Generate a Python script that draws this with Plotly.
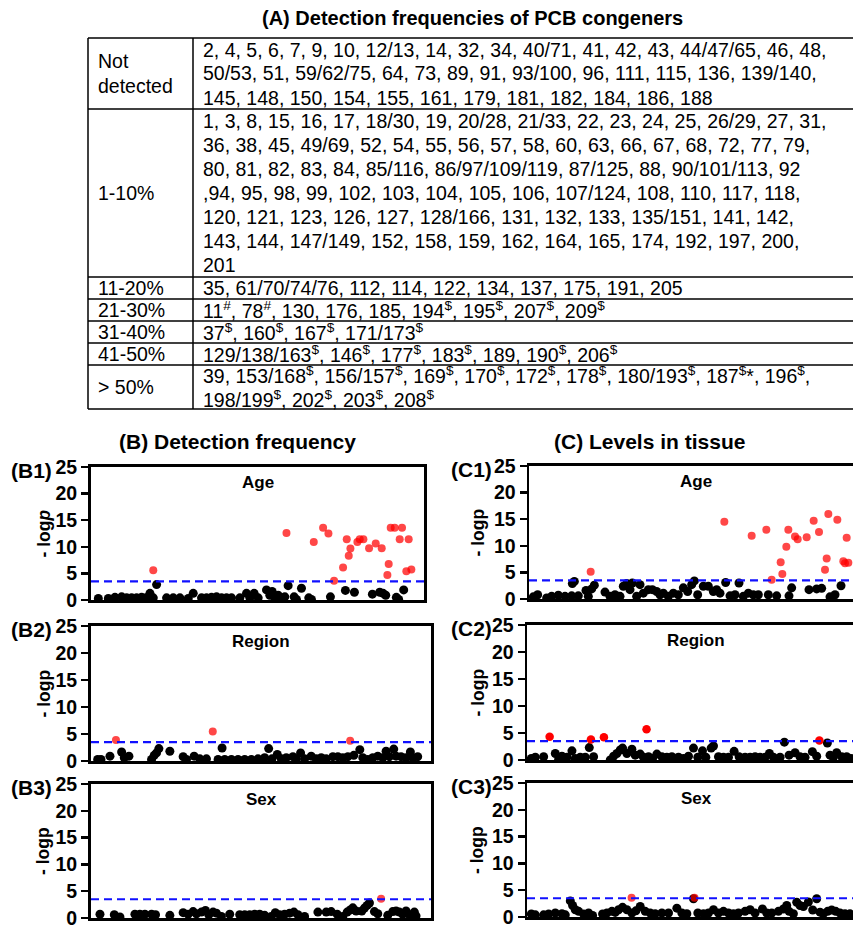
import plotly.graph_objects as go

W, H = 853, 925
FONT = "Liberation Sans, Arial, Helvetica, sans-serif"

# ---------------- (A) table data ----------------
table_title = "(A) Detection frequencies of PCB congeners"
freq_classes = ["Not<br>detected", "1-10%", "11-20%", "21-30%", "31-40%", "41-50%", "> 50%"]
congener_lines = [
    ["2, 4, 5, 6, 7, 9, 10, 12/13, 14, 32, 34, 40/71, 41, 42, 43, 44/47/65, 46, 48,",
     "50/53, 51, 59/62/75, 64, 73, 89, 91, 93/100, 96, 111, 115, 136, 139/140,",
     "145, 148, 150, 154, 155, 161, 179, 181, 182, 184, 186, 188"],
    ["1, 3, 8, 15, 16, 17, 18/30, 19, 20/28, 21/33, 22, 23, 24, 25, 26/29, 27, 31,",
     "36, 38, 45, 49/69, 52, 54, 55, 56, 57, 58, 60, 63, 66, 67, 68, 72, 77, 79,",
     "80, 81, 82, 83, 84, 85/116, 86/97/109/119, 87/125, 88, 90/101/113, 92",
     ",94, 95, 98, 99, 102, 103, 104, 105, 106, 107/124, 108, 110, 117, 118,",
     "120, 121, 123, 126, 127, 128/166, 131, 132, 133, 135/151, 141, 142,",
     "143, 144, 147/149, 152, 158, 159, 162, 164, 165, 174, 192, 197, 200,",
     "201"],
    ["35, 61/70/74/76, 112, 114, 122, 134, 137, 175, 191, 205"],
    ["11<sup>#</sup>, 78<sup>#</sup>, 130, 176, 185, 194<sup>$</sup>, 195<sup>$</sup>, 207<sup>$</sup>, 209<sup>$</sup>"],
    ["37<sup>$</sup>, 160<sup>$</sup>, 167<sup>$</sup>, 171/173<sup>$</sup>"],
    ["129/138/163<sup>$</sup>, 146<sup>$</sup>, 177<sup>$</sup>, 183<sup>$</sup>, 189, 190<sup>$</sup>, 206<sup>$</sup>"],
    ["39, 153/168<sup>$</sup>, 156/157<sup>$</sup>, 169<sup>$</sup>, 170<sup>$</sup>, 172<sup>$</sup>, 178<sup>$</sup>, 180/193<sup>$</sup>, 187<sup>$</sup>*, 196<sup>$</sup>,",
     "198/199<sup>$</sup>, 202<sup>$</sup>, 203<sup>$</sup>, 208<sup>$</sup>"],
]

# ---------------- scatter data (x = congener position, y = -log p) ----------------
threshold = 3.5

b1_black_x = [2.2,5.2,7.2,9.2,10.7,12.2,13.7,15.2,16.5,17.7,18.7,19.7,22.7,24.7,26.7,29.2,30.7,33.2,34.7,36.2,
              37.7,39.2,40.7,42.2,44.7,46.7,47.7,49.0,50.2,52.7,53.7,54.4,55.2,56.2,57.2,58.2,59.2,61.0,61.7,63.2,
              65.4,66.2,71.9,76.4,79.1,84.5,86.7,87.7,88.5,91.7,92.4,93.9]
b1_black_y = [0.3,0.3,0.5,0.6,0.4,0.4,0.4,0.5,0.4,1.25,0.4,2.9,0.4,0.4,0.4,0.3,1.25,0.4,0.4,0.5,
              0.6,0.4,0.4,0.4,0.4,1.25,0.4,1.25,0.4,1.9,0.9,1.6,0.4,0.9,0.4,0.6,2.7,0.6,0.1,2.2,
              0.4,0.1,0.6,1.8,1.45,1.1,1.45,1.25,0.9,0.5,0.1,1.9]
b1_red_x = [18.7,58.7,66.9,69.7,71.3,73.0,75.7,76.8,77.4,77.9,80.0,80.7,81.8,83.5,85.5,87.3,89.0,89.4,90.0,91.2,
            92.7,93.4,94.7,95.4,96.2]
b1_red_y = [5.6,12.6,10.9,13.6,12.5,3.6,6.1,11.4,8.3,9.7,10.9,11.4,11.4,9.75,10.6,9.75,4.7,6.75,13.6,13.6,
            11.4,13.6,5.4,11.4,5.75]

b2_black_x = [2.0,3.0,5.7,9.2,10.0,11.4,18.2,19.0,19.7,20.4,23.7,27.7,28.7,31.0,32.7,34.7,38.2,39.4,40.2,42.2,
              44.2,46.2,48.2,50.2,52.2,53.4,54.4,56.0,57.2,58.7,60.7,61.7,63.0,64.2,66.2,67.7,69.2,70.7,72.7,74.2,
              75.7,77.2,79.0,80.8,81.7,83.2,84.7,86.2,87.7,88.7,89.7,91.0,91.7,93.2,94.7,96.0,96.7,98.2]
b2_black_y = [0.3,0.3,0.9,1.66,0.6,0.9,0.3,1.05,1.5,2.3,1.8,0.8,0.3,0.9,0.4,0.4,0.3,2.4,0.3,0.3,
              0.3,0.3,0.3,0.4,0.6,2.3,0.4,1.2,0.4,0.6,0.8,0.4,1.5,0.4,0.9,0.4,0.6,0.4,0.8,0.8,
              0.6,0.8,1.05,2.1,0.6,0.3,0.6,0.9,0.6,1.8,0.8,2.2,0.9,0.8,0.6,1.66,0.6,0.8]
b2_red_x = [7.5,36.6,77.9]
b2_red_y = [3.87,5.47,3.75]

b3_black_x = [2.7,7.0,8.7,13.2,14.7,16.2,18.2,19.4,23.7,27.7,29.2,30.7,31.7,33.2,34.4,35.4,36.7,37.7,39.2,41.7,
              44.7,46.2,47.7,49.2,50.7,52.2,54.2,55.4,56.7,58.2,59.7,61.0,62.2,64.2,68.2,70.7,72.2,74.0,75.7,77.0,
              77.9,78.7,79.7,81.4,82.2,83.0,83.7,85.2,86.2,89.2,90.7,91.7,92.7,93.7,94.7,95.7,97.2,97.7]
b3_black_y = [0.7,0.6,0.2,0.7,0.7,0.7,0.7,0.6,0.5,1.0,0.7,1.2,0.8,1.1,1.4,0.6,1.1,0.9,0.3,0.7,
              0.6,0.6,0.6,0.7,0.7,0.5,0.3,1.0,0.6,0.7,0.9,1.1,0.6,0.3,1.1,1.1,1.2,0.7,0.3,1.1,
              1.5,1.9,1.3,1.3,1.85,2.35,2.8,1.2,0.8,0.5,1.2,1.3,1.1,0.7,1.3,0.6,1.1,0.4]
b3_red_x = [87.2]
b3_red_y = [3.6]

c1_black_x = [1.3,2.6,5.3,6.8,8.8,10.8,12.8,13.0,13.6,14.8,17.1,17.8,18.8,19.6,22.8,24.3,25.8,27.3,28.3,29.3,
              30.3,31.0,32.3,33.3,34.3,35.8,37.0,38.3,39.3,40.3,41.8,43.3,44.8,46.3,47.6,48.8,49.6,50.6,52.3,53.8,
              55.3,56.3,57.3,59.0,60.3,61.8,63.0,64.3,65.8,67.3,68.8,71.8,74.3,78.0,78.8,84.0,86.3,87.8,90.3,91.8,
              93.6]
c1_black_y = [0.4,0.8,0.2,0.5,0.7,0.5,0.6,2.9,3.3,0.6,1.6,0.5,1.9,2.6,1.3,0.5,0.8,0.5,2.4,2.9,
              1.75,3.0,0.5,2.7,1.1,1.75,1.75,1.4,0.8,1.1,0.5,1.1,0.8,2.1,1.4,2.7,3.4,0.8,2.4,2.4,
              1.4,1.75,1.1,3.1,0.6,0.8,3.0,0.5,1.1,0.8,0.8,0.8,0.6,0.6,2.1,1.75,1.9,2.0,0.4,0.8,
              2.5]
c1_red_x = [18.5,58.6,66.8,71.2,72.8,75.5,76.0,77.2,77.8,79.8,80.6,83.3,85.4,87.0,88.8,89.3,89.8,92.5,94.3,94.8,
            95.3,95.8]
c1_red_y = [5.1,14.5,11.9,13.0,3.6,6.9,4.7,9.8,13.0,11.75,11.25,11.6,14.7,12.6,5.5,7.6,16.0,14.9,7.1,6.7,
            11.5,6.8]

c2_black_x = [1.3,2.5,5.0,8.5,9.5,10.5,12.0,13.5,14.5,16.0,17.5,18.7,20.0,25.0,26.0,27.0,28.0,28.7,30.0,31.5,
              32.5,34.0,35.0,36.5,37.7,39.0,40.5,42.0,43.5,45.5,47.0,48.5,50.0,51.3,52.7,53.7,55.3,56.0,57.5,59.0,
              60.5,62.2,63.7,65.5,67.0,68.5,70.0,71.5,72.8,74.0,76.0,77.3,78.7,80.5,82.0,83.5,85.7,87.0,90.2,91.0,
              92.0,93.0,94.5,96.0,97.3]
c2_black_y = [0.3,0.5,0.6,1.2,0.1,0.7,0.5,1.7,0.3,0.5,0.5,2.3,0.6,0.0,0.7,1.2,1.85,2.2,1.2,2.0,
              0.9,1.1,0.5,0.6,0.3,1.1,0.6,0.5,0.6,0.5,0.3,0.7,2.2,0.5,1.7,0.5,2.2,2.6,0.6,0.5,
              0.5,1.6,0.6,0.5,0.5,0.6,0.5,0.5,1.2,0.5,0.5,3.3,0.9,1.35,0.6,0.5,1.55,0.7,3.15,0.9,
              0.5,1.35,0.6,0.6,0.3]
c2_red_x = [6.8,19.2,23.1,35.9,87.8]
c2_red_y = [4.3,3.8,4.2,5.7,3.6]

c3_black_x = [1.3,2.5,5.0,6.5,8.5,10.5,11.5,13.0,13.7,14.5,15.5,17.0,18.5,19.7,22.7,24.0,25.5,26.5,27.5,28.7,
              30.0,31.5,32.7,34.0,35.5,37.0,38.5,40.5,42.5,45.0,46.5,48.0,50.0,51.3,53.0,54.5,56.0,57.5,59.0,60.5,
              62.0,63.5,65.5,67.0,68.5,70.7,72.0,73.5,75.5,77.0,78.0,78.7,80.0,81.0,82.0,83.0,84.5,85.8,87.0,88.0,
              89.0,90.3,91.5,92.7,94.0,95.5,97.0]
c3_black_y = [0.55,0.4,0.4,0.55,0.75,0.6,0.4,3.0,2.15,1.35,1.05,0.55,0.75,0.3,0.55,0.75,1.05,0.85,1.35,1.8,
              1.35,0.75,1.15,1.95,1.05,0.75,0.6,0.75,0.75,1.65,0.75,0.6,3.4,0.75,0.6,0.75,1.35,0.75,1.05,0.75,
              0.6,0.75,1.05,1.35,0.75,1.5,0.75,0.75,1.05,1.5,2.15,1.05,0.6,2.75,2.15,1.95,2.8,1.3,3.4,0.9,
              0.6,1.05,1.3,1.05,0.75,0.6,0.6]
c3_red_x = [31.4,50.3]
c3_red_y = [3.6,3.6]

y_ticks = [0, 5, 10, 15, 20, 25]

# ---------------- figure ----------------
def PX(p):
    return p / W

def PY(p):
    return 1 - p / H

RED_T = "rgba(255,0,0,0.72)"
panels = [
    dict(lab="(B1)", title="Age", yt="<b>- log<i>p</i></b>", dx=(91, 424), dy=(467, 600), xr=100.0,
         bx=b1_black_x, by=b1_black_y, rx=b1_red_x, ry=b1_red_y, red=RED_T, box=True, labx=32, ytx=43),
    dict(lab="(B2)", title="Region", yt="<b>- logp</b>", dx=(91, 431), dy=(626, 761), xr=102.2,
         bx=b2_black_x, by=b2_black_y, rx=b2_red_x, ry=b2_red_y, red=RED_T, box=True, labx=32, ytx=43),
    dict(lab="(B3)", title="Sex", yt="<b>- logp</b>", dx=(91, 431), dy=(784, 918), xr=102.2,
         bx=b3_black_x, by=b3_black_y, rx=b3_red_x, ry=b3_red_y, red=RED_T, box=True, labx=32, ytx=43),
    dict(lab="(C1)", title="Age", yt="<b>- logp</b>", dx=(529, 853), dy=(466, 599), xr=97.2,
         bx=c1_black_x, by=c1_black_y, rx=c1_red_x, ry=c1_red_y, red=RED_T, box=False, labx=471, ytx=477),
    dict(lab="(C2)", title="Region", yt="<b>- logp</b>", dx=(527, 853), dy=(625, 760), xr=97.9,
         bx=c2_black_x, by=c2_black_y, rx=c2_red_x, ry=c2_red_y, red="#ff0000", box=False, labx=471, ytx=477),
    dict(lab="(C3)", title="Sex", yt="<b>- logp</b>", dx=(527, 853), dy=(783, 917), xr=97.9,
         bx=c3_black_x, by=c3_black_y, rx=c3_red_x, ry=c3_red_y, red=RED_T, box=False, labx=471, ytx=477),
]

fig = go.Figure()
layout = dict(width=W, height=H, margin=dict(l=0, r=0, t=0, b=0, autoexpand=False),
              paper_bgcolor="white", plot_bgcolor="white", showlegend=False,
              font=dict(family=FONT, color="black"))
annotations = []
shapes = []

for i, p in enumerate(panels, start=1):
    sfx = "" if i == 1 else str(i)
    xa, ya = "x" + sfx, "y" + sfx
    fig.add_trace(go.Scatter(x=p["bx"], y=p["by"], mode="markers", xaxis=xa, yaxis=ya,
                             marker=dict(color="black", size=9), hoverinfo="skip"))
    fig.add_trace(go.Scatter(x=p["rx"], y=p["ry"], mode="markers", xaxis=xa, yaxis=ya,
                             marker=dict(color=p["red"], size=8.5 if p["red"] == "#ff0000" else 8),
                             hoverinfo="skip"))
    layout["xaxis" + sfx] = dict(domain=[PX(p["dx"][0]), PX(p["dx"][1])], range=[0, p["xr"]], anchor=ya,
                                 showline=True, linecolor="black", linewidth=3, mirror=True,
                                 showticklabels=False, ticks="", showgrid=False, zeroline=False,
                                 fixedrange=True)
    layout["yaxis" + sfx] = dict(domain=[PY(p["dy"][1]), PY(p["dy"][0])], range=[0, 25], anchor=xa,
                                 tickvals=y_ticks, ticks="outside", ticklen=7, tickwidth=2.5,
                                 tickcolor="black", showline=True, linecolor="black",
                                 linewidth=3 if p["box"] else 2.5, mirror=p["box"],
                                 ticklabeloverflow="allow",
                                 tickfont=dict(family=FONT, size=19.5, weight="bold", color="black"),
                                 showgrid=False, zeroline=False, fixedrange=True)
    shapes.append(dict(type="line", xref=xa + " domain", x0=0, x1=1, yref=ya, y0=threshold, y1=threshold,
                       line=dict(color="#1010ff", width=2.2, dash="8px,5px"), layer="above"))
    cx = (p["dx"][0] + p["dx"][1]) / 2 if p["box"] else 696
    annotations.append(dict(text="<b>%s</b>" % p["title"], x=PX(cx), y=PY(p["dy"][0] + 15), xref="paper",
                            yref="paper", showarrow=False, xanchor="center", yanchor="middle",
                            font=dict(family=FONT, size=17, color="black")))
    annotations.append(dict(text="<b>%s</b>" % p["lab"], x=PX(p["labx"]), y=PY(p["dy"][0] + 3), xref="paper",
                            yref="paper", showarrow=False, xanchor="center", yanchor="middle",
                            font=dict(family=FONT, size=21, color="black")))
    annotations.append(dict(text=p["yt"], x=PX(p["ytx"]), y=PY((p["dy"][0] + p["dy"][1]) / 2), xref="paper",
                            yref="paper", showarrow=False, xanchor="center", yanchor="middle", textangle=-90,
                            font=dict(family=FONT, size=17.5, color="black")))

# section headings
annotations.append(dict(text="<b>(B) Detection frequency</b>", x=PX(238), y=PY(441), xref="paper", yref="paper",
                        showarrow=False, xanchor="center", yanchor="middle", font=dict(family=FONT, size=21)))
annotations.append(dict(text="<b>(C) Levels in tissue</b>", x=PX(649), y=PY(441), xref="paper", yref="paper",
                        showarrow=False, xanchor="center", yanchor="middle", font=dict(family=FONT, size=21)))
annotations.append(dict(text="<b>%s</b>" % table_title, x=PX(472), y=PY(18), xref="paper", yref="paper",
                        showarrow=False, xanchor="center", yanchor="middle", font=dict(family=FONT, size=20)))

# table
row_bounds = [38, 109, 277, 299, 321, 343, 365, 409]
LINE_H = 24
for r, (label, lines) in enumerate(zip(freq_classes, congener_lines)):
    top, bot = row_bounds[r], row_bounds[r + 1]
    c = (top + bot) / 2
    annotations.append(dict(text=label, x=PX(96), y=PY(c), xref="paper", yref="paper", showarrow=False,
                            xanchor="left", yanchor="middle", align="left",
                            font=dict(family=FONT, size=19.5, color="black")))
    n = len(lines)
    for k, line in enumerate(lines):
        yc = c + LINE_H * (k - (n - 1) / 2)
        annotations.append(dict(text=line, x=PX(201), y=PY(yc), xref="paper", yref="paper", showarrow=False,
                                xanchor="left", yanchor="middle", align="left",
                                font=dict(family=FONT, size=19.5, color="black")))
for yb in row_bounds:
    shapes.append(dict(type="line", xref="paper", yref="paper", x0=PX(88), x1=PX(853), y0=PY(yb), y1=PY(yb),
                       line=dict(color="black", width=1.5)))
for xb in (88, 193):
    shapes.append(dict(type="line", xref="paper", yref="paper", x0=PX(xb), x1=PX(xb),
                       y0=PY(row_bounds[0]), y1=PY(row_bounds[-1]), line=dict(color="black", width=1.5)))

layout["annotations"] = annotations
layout["shapes"] = shapes
fig.update_layout(**layout)
fig.write_html("out.html", config={"displayModeBar": False, "staticPlot": True},
               post_script="document.body.style.margin='0px';document.body.style.overflow='hidden';")
